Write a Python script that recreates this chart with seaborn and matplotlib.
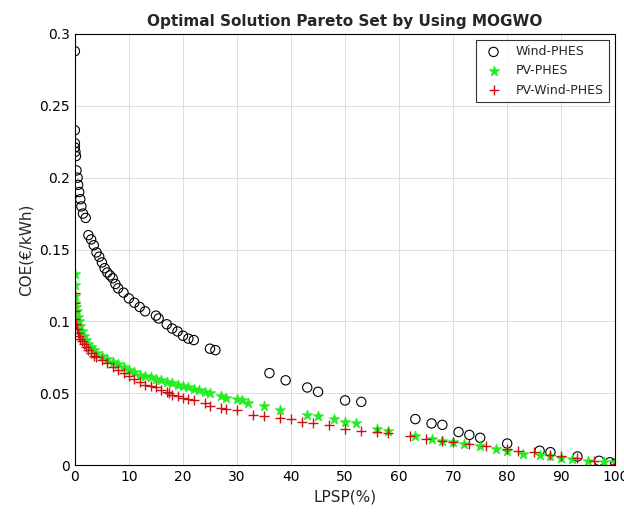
import matplotlib
matplotlib.use("Agg")
import matplotlib.pyplot as plt
import seaborn as sns
import pandas as pd

wind_x = [0,0,0,0,0.1,0.2,0.3,0.5,0.6,0.8,1,1.2,1.5,2,2.5,3,3.5,4,4.5,5,5.5,6,6.5,7,7.5,8,9,10,11,12,13,15,15.5,17,18,19,20,21,22,25,26,36,39,43,45,50,53,63,66,68,71,73,75,80,86,88,93,97,99,100]
wind_y = [0.288,0.233,0.224,0.221,0.218,0.215,0.205,0.200,0.195,0.190,0.185,0.180,0.175,0.172,0.160,0.157,0.153,0.148,0.145,0.141,0.137,0.134,0.132,0.130,0.126,0.123,0.120,0.116,0.113,0.110,0.107,0.104,0.102,0.098,0.095,0.093,0.090,0.088,0.087,0.081,0.080,0.064,0.059,0.054,0.051,0.045,0.044,0.032,0.029,0.028,0.023,0.021,0.019,0.015,0.010,0.009,0.006,0.003,0.002,0.001]

pv_x = [0,0,0,0.1,0.2,0.3,0.5,0.7,1,1.3,1.6,2,2.5,3,3.5,4,5,6,7,8,9,10,11,12,13,14,15,16,17,18,19,20,21,22,23,24,25,27,28,30,31,32,35,38,43,45,48,50,52,56,58,63,66,68,70,72,75,78,80,83,86,88,90,92,95,98,100]
pv_y = [0.133,0.125,0.118,0.113,0.110,0.107,0.103,0.100,0.097,0.093,0.090,0.087,0.084,0.082,0.080,0.078,0.076,0.074,0.072,0.070,0.068,0.066,0.065,0.063,0.062,0.061,0.060,0.059,0.058,0.057,0.056,0.055,0.054,0.053,0.052,0.051,0.050,0.048,0.047,0.046,0.045,0.043,0.041,0.038,0.035,0.034,0.032,0.030,0.029,0.025,0.024,0.020,0.018,0.017,0.016,0.015,0.013,0.011,0.010,0.008,0.007,0.006,0.005,0.004,0.003,0.002,0.002]

pvw_x = [0,0,0,0.1,0.2,0.3,0.5,0.7,1,1.3,1.6,2,2.5,3,3.5,4,5,6,7,8,9,10,11,12,13,14,15,16,17,17.5,18,19,20,21,22,24,25,27,28,30,33,35,38,40,42,44,47,50,53,56,58,62,65,68,70,73,76,80,82,85,88,90,93,96,100]
pvw_y = [0.120,0.113,0.107,0.102,0.098,0.095,0.092,0.090,0.088,0.086,0.084,0.082,0.080,0.078,0.076,0.075,0.073,0.071,0.068,0.066,0.064,0.062,0.060,0.058,0.056,0.055,0.054,0.052,0.051,0.050,0.049,0.048,0.047,0.046,0.045,0.043,0.041,0.040,0.039,0.038,0.035,0.034,0.033,0.032,0.030,0.029,0.028,0.025,0.024,0.023,0.022,0.020,0.018,0.017,0.016,0.015,0.013,0.011,0.010,0.009,0.007,0.006,0.005,0.003,0.001]

sns.set_style("white")
plt.rcParams['font.family'] = ['DejaVu Sans']
fig = plt.figure(figsize=(6.24, 5.22), dpi=100)
ax = fig.add_axes([0.12, 0.109, 0.866, 0.826])

sns.scatterplot(x=wind_x, y=wind_y, ax=ax, marker='o', s=45, facecolor='none',
                edgecolor='black', linewidth=0.8, label='Wind-PHES')
sns.scatterplot(x=pv_x, y=pv_y, ax=ax, marker='*', s=60, color='#22ee22',
                edgecolor='#22ee22', linewidth=0.6, label='PV-PHES')
sns.scatterplot(x=pvw_x, y=pvw_y, ax=ax, marker='+', s=50, color='#cc1111',
                linewidth=1.0, label='PV-Wind-PHES')

ax.set_xlim(0, 100)
ax.set_ylim(0, 0.3)
ax.set_xticks(range(0, 101, 10))
ax.set_yticks([0, 0.05, 0.1, 0.15, 0.2, 0.25, 0.3])
ax.set_yticklabels(['0', '0.05', '0.1', '0.15', '0.2', '0.25', '0.3'])
ax.grid(True, color='#dddddd', linewidth=0.7)
for s in ax.spines.values():
    s.set_color('black'); s.set_linewidth(0.8)
ax.tick_params(direction='in', length=4, labelsize=10, colors='black')
ax.set_xlabel('LPSP(%)', fontsize=11)
ax.set_ylabel('COE(€/kWh)', fontsize=11)
ax.set_title('Optimal Solution Pareto Set by Using MOGWO', fontsize=11, fontweight='bold')
leg = ax.legend(loc='upper right', frameon=True, fancybox=False, edgecolor='black', fontsize=9)
leg.get_frame().set_linewidth(0.8)
fig.savefig('out.png', dpi=100)
